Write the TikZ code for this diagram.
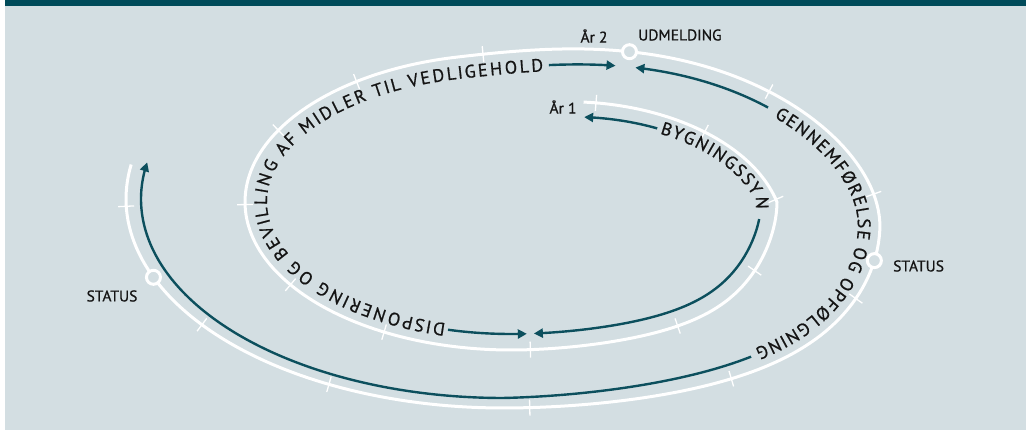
\documentclass[tikz,border=0pt]{standalone}
\usepackage{fontspec}
\newfontfamily\spfont{PT Sans}[FakeBold=0.8]
\usetikzlibrary{arrows.meta,calc,decorations.text}
\definecolor{bgc}{HTML}{D3DEE2}
\definecolor{barc}{HTML}{004B5A}
\definecolor{tealc}{HTML}{0C4F5D}
\definecolor{txtc}{HTML}{141414}
\newcommand\sptext{\spfont\fontsize{18}{21}\selectfont}
\newcommand\lbltext{\spfont\fontsize{15.5}{18}\selectfont}
\begin{document}
\begin{tikzpicture}[x=1pt,y=-1pt,
  declare function={
    sst(\va)=min(max((\va-258)/104,0),1);
    smo(\va)=3*sst(\va)^2-2*sst(\va)^3;
    gfa(\va)=min(1,1+0.004*\va);
    pex(\va)=1-0.15*(1-0.6*smo(\va))*max(0,sin(2*\va))*max(0,cos(\va-45));
    cxf(\va)=511-8*smo(\va);
    cyf(\va)=202-3*smo(\va)+25*smo(\va)*max(0,cos(\va))^2;
    afn(\va)=gfa(\va)*(266+111*smo(\va));
    bfn(\va)=gfa(\va)*(148+61*smo(\va));
    sx(\va,\vb)=cxf(\va)+(afn(\va)-\vb)*cos(\va)*(abs(cos(\va))+0.0001)^(pex(\va)-1);
    sy(\va,\vc)=cyf(\va)+(bfn(\va)-\vc)*sin(\va)*(abs(sin(\va))+0.0001)^(pex(\va)-1);
  },
  spiral/.style={draw=white, line width=3pt},
  tickline/.style={draw=white, line width=1.3pt},
  flow/.style={draw=tealc, line width=2.4pt, -{Triangle[length=9pt,width=9pt]}},
  ring/.style={circle, draw=white, line width=3pt, fill=bgc, minimum size=14pt, inner sep=0pt},
  lbl/.style={font=\lbltext, text=txtc, inner sep=0pt},
  sptextpath/.style={decorate, decoration={text effects along path, text={#1},
      text effects/.cd, text along path, fit text to path,
      characters={font=\sptext, text=txtc}}},
]
\useasboundingbox (0,0) rectangle (1026,430);
\fill[white] (0,0) rectangle (1026,430);
\fill[bgc] (5,0) rectangle (1026,430);
\fill[barc] (5,0) rectangle (1026,6);

% spiral
\draw[spiral] plot[domain=-68:549.5, samples=400] ({sx(\x,0)},{sy(\x,0)});

% ticks
\foreach \t in {-64.5,-33,-1,25,54.5,86,118.5,146,179,209,234.5,264,321,352,381,414,446,477.5,503,538}{
  \coordinate (tp) at ({sx(\t,0)},{sy(\t,0)});
  \coordinate (tq) at ({sx(\t+0.5,0)},{sy(\t+0.5,0)});
  \draw[tickline] ($(tp)!8pt!90:(tq)$) -- ($(tp)!8pt!-90:(tq)$);
}

% rings
\node[ring] (yr2) at ({sx(294,0)},{sy(294,0)}) {};
\node[ring] (st1) at ({sx(370,0)},{sy(370,0)}) {};
\node[ring] (st2) at ({sx(518,0)},{sy(518,0)}) {};

% arrows
\draw[flow] plot[domain=278.5:292.5, samples=30] ({sx(\x,16)},{sy(\x,16)});
\draw[flow] plot[domain=323.5:296.5, samples=40] ({sx(\x,16)},{sy(\x,16)});
\draw[flow] plot[domain=-44:-66, samples=30] ({sx(\x,16)},{sy(\x,16)});
\draw[flow] plot[domain=7:85, samples=80] ({sx(\x,16)},{sy(\x,16)});
\draw[flow] plot[domain=104.6:86.5, samples=30] ({sx(\x,16)},{sy(\x,16)});
\draw[flow] plot[domain=408:550.6, samples=150] ({sx(\x,15)},{sy(\x,10+8*max(0,cos(\x)))});

% texts along the spiral
\path[sptextpath={DISPONERING OG BEVILLING AF MIDLER TIL VEDLIGEHOLD}]
  plot[domain=105.5:277.5, samples=160] ({sx(\x,22)},{sy(\x,22)});
\path[sptextpath={GENNEMFØRELSE OG OPFØLGNING}]
  plot[domain=326:406, samples=100] ({sx(\x,22)},{sy(\x,22)});
\path[sptextpath={BYGNINGSSYN}]
  plot[domain=-42:3, samples=60] ({sx(\x,21)},{sy(\x,21)});

% labels
\node[lbl] (l2) at (594,36) {År 2};
\node[lbl, anchor=west] (ud) at (638,35) {UDMELDING};
\node[lbl] (l1) at (563,107) {År 1};
\node[lbl, anchor=west] (s1) at (893,266) {STATUS};
\node[lbl] (s2) at (112,296) {STATUS};
\end{tikzpicture}
\end{document}
